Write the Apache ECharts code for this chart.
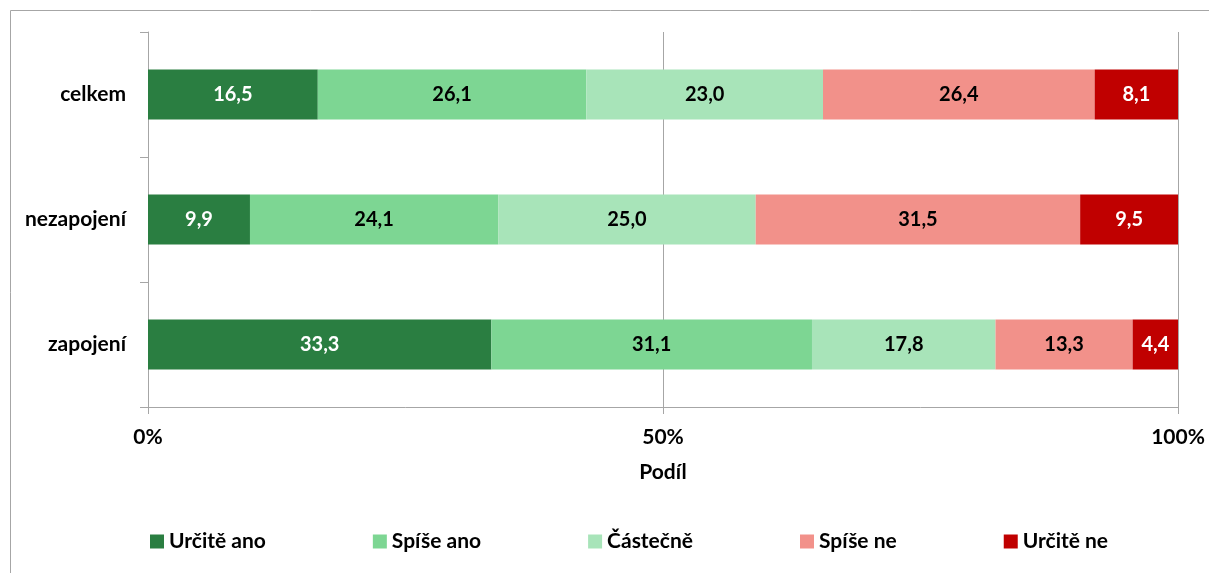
<!DOCTYPE html>
<html>
<head>
<meta charset="utf-8">
<script src="https://cdn.jsdelivr.net/npm/echarts@6/dist/echarts.min.js"></script>
<style>
  html, body { margin: 0; padding: 0; background: #fff; }
  #chart { width: 1209px; height: 573px; }
</style>
</head>
<body>
<div id="chart"></div>
<script>
  // data
  var categories = ['celkem', 'nezapojení', 'zapojení'];
  var seriesNames = ['Určitě ano', 'Spíše ano', 'Částečně', 'Spíše ne', 'Určitě ne'];
  var urciteAno = [16.5, 9.9, 33.3];
  var spiseAno = [26.1, 24.1, 31.1];
  var castecne = [23.0, 25.0, 17.8];
  var spiseNe = [26.4, 31.5, 13.3];
  var urciteNe = [8.1, 9.5, 4.4];
  var xTicks = ['0%', '50%', '100%'];

  var colors = ['#2A7E41', '#7DD693', '#A8E4B9', '#F2918A', '#C00000'];
  var labelColors = ['#fff', '#000', '#000', '#000', '#fff'];
  var values = [urciteAno, spiseAno, castecne, spiseNe, urciteNe];

  // 100% stacked: podíly dopočítat z řádkového součtu
  var sums = categories.map(function (c, i) {
    var s = 0;
    values.forEach(function (v) { s += v[i]; });
    return s;
  });

  var FONT = 'Lato';
  var boldText = { fontFamily: FONT, fontWeight: 'bold', fontSize: 21, color: '#000' };

  var chart = echarts.init(document.getElementById('chart'));

  var series = seriesNames.map(function (name, k) {
    return {
      name: name,
      type: 'bar',
      stack: 'total',
      barWidth: '40%',
      itemStyle: { color: colors[k] },
      label: {
        show: true,
        position: 'inside',
        color: labelColors[k],
        fontFamily: FONT,
        fontWeight: 'bold',
        fontSize: 20,
        formatter: function (p) {
          return values[k][p.dataIndex].toFixed(1).replace('.', ',');
        }
      },
      data: values[k].map(function (v, i) { return v / sums[i] * 100; })
    };
  });

  var option = {
    animation: false,
    textStyle: { fontFamily: FONT },
    grid: {
      left: 148,
      right: 31,
      top: 32,
      bottom: 166
    },
    legend: {
      left: 145,
      top: 526,
      itemWidth: 14,
      itemHeight: 14,
      itemGap: 107,
      icon: 'rect',
      textStyle: boldText,
      data: seriesNames
    },
    xAxis: {
      type: 'value',
      min: 0,
      max: 100,
      interval: 50,
      name: 'Podíl',
      nameLocation: 'middle',
      nameGap: 55,
      nameTextStyle: boldText,
      axisLine: { show: true, lineStyle: { color: '#A6A6A6', width: 1 } },
      axisTick: { show: true, length: 7, lineStyle: { color: '#A6A6A6' } },
      axisLabel: {
        margin: 20,
        fontFamily: FONT,
        fontWeight: 'bold',
        fontSize: 21,
        color: '#000',
        formatter: function (v) { return xTicks[v / 50]; }
      },
      splitLine: { show: true, lineStyle: { color: '#A6A6A6', width: 1 } }
    },
    yAxis: {
      type: 'category',
      inverse: true,
      data: categories,
      axisLine: { show: true, lineStyle: { color: '#A6A6A6', width: 1 } },
      axisTick: { show: true, length: 8, lineStyle: { color: '#A6A6A6' } },
      axisLabel: {
        margin: 22,
        fontFamily: FONT,
        fontWeight: 'bold',
        fontSize: 21,
        color: '#000'
      }
    },
    graphic: [{
      type: 'rect',
      shape: { x: 10.5, y: 10.5, width: 1200, height: 570 },
      style: { fill: null, stroke: '#A6A6A6', lineWidth: 1 },
      silent: true
    }],
    series: series
  };

  chart.setOption(option);
</script>
</body>
</html>
